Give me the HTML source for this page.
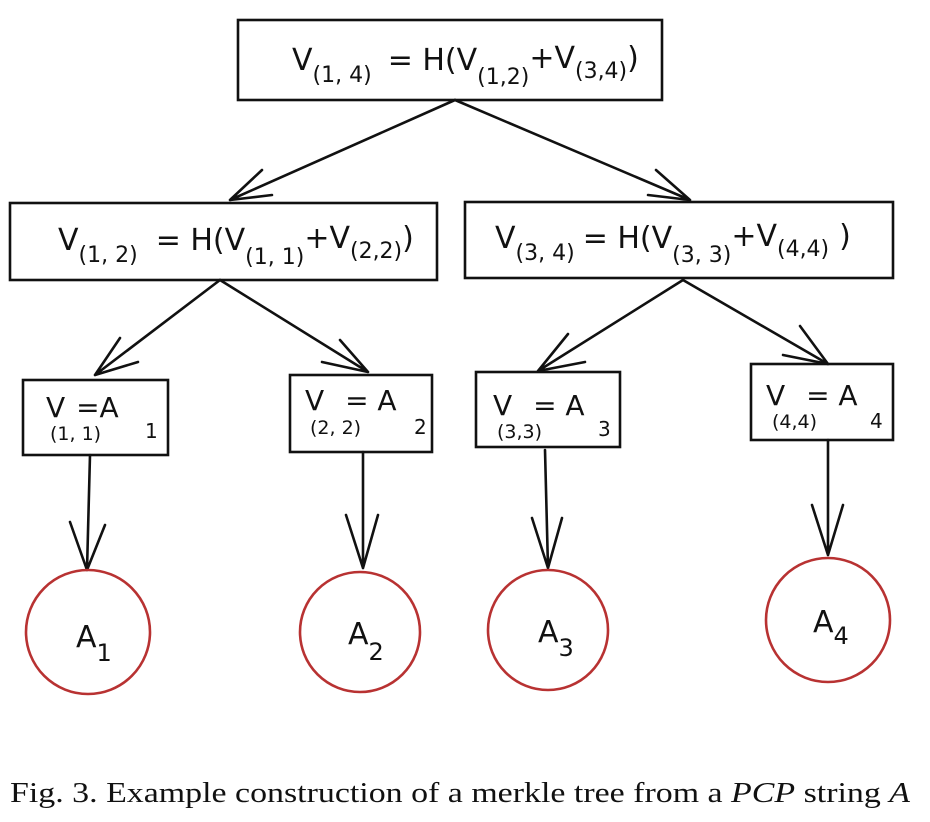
<!DOCTYPE html>
<html><head><meta charset="utf-8"><style>
body{margin:0;background:#fff;width:930px;height:822px;overflow:hidden}
svg{display:block}
.t{font-family:"DejaVu Sans","Liberation Sans",sans-serif;fill:#111}
</style></head><body>
<svg width="930" height="822" viewBox="0 0 930 822" xmlns="http://www.w3.org/2000/svg">
<g fill="none" stroke="#111" stroke-width="2.6" stroke-linecap="round">
<rect x="238" y="20" width="424" height="80"/>
<rect x="10" y="203" width="427" height="77"/>
<rect x="465" y="202" width="428" height="76"/>
<rect x="23" y="380" width="145" height="75"/>
<rect x="290" y="375" width="142" height="77"/>
<rect x="476" y="372" width="144" height="75"/>
<rect x="751" y="364" width="142" height="76"/>
<path d="M455 100 L230 200 M230 200 L262 170 M230 200 L272 195"/>
<path d="M455 100 L690 200 M690 200 L656 170 M690 200 L648 195"/>
<path d="M220 280 L95 375 M95 375 L120 338 M95 375 L138 362"/>
<path d="M220 280 L368 372 M368 372 L340 340 M368 372 L322 362"/>
<path d="M683 280 L538 371 M538 371 L568 334 M538 371 L585 362"/>
<path d="M683 280 L828 364 M828 364 L800 326 M828 364 L783 355"/>
<path d="M90 455 L87 570 M87 570 L70 522 M87 570 L105 525"/>
<path d="M363 452 L363 568 M363 568 L346 515 M363 568 L378 515"/>
<path d="M545 450 L548 568 M548 568 L532 518 M548 568 L562 518"/>
<path d="M828 440 L828 555 M828 555 L812 505 M828 555 L843 505"/>
</g>
<g fill="none" stroke="#b83232" stroke-width="2.6">
<circle cx="88" cy="632" r="62"/>
<circle cx="360" cy="632" r="60"/>
<circle cx="548" cy="630" r="60"/>
<circle cx="828" cy="620" r="62"/>
</g>
<g class="t">
<text x="292" y="70" font-size="30">V<tspan font-size="22" dy="12">(1, 4)</tspan><tspan dy="-12" dx="16">= H(V</tspan><tspan font-size="22" dy="14">(1,2)</tspan><tspan dy="-16">+V</tspan><tspan font-size="22" dy="10">(3,4)</tspan><tspan dy="-10">)</tspan></text>
<text x="58" y="250" font-size="30">V<tspan font-size="22" dy="12">(1, 2)</tspan><tspan dy="-12" dx="18">= H(V</tspan><tspan font-size="22" dy="14">(1, 1)</tspan><tspan dy="-16">+V</tspan><tspan font-size="22" dy="10">(2,2)</tspan><tspan dy="-10">)</tspan></text>
<text x="495" y="248" font-size="30">V<tspan font-size="22" dy="12">(3, 4)</tspan><tspan dy="-12" dx="8">= H(V</tspan><tspan font-size="22" dy="14">(3, 3)</tspan><tspan dy="-16">+V</tspan><tspan font-size="22" dy="10">(4,4)</tspan><tspan dy="-10" dx="10">)</tspan></text>
<text x="46" y="417" font-size="28">V <tspan dx="2">=A</tspan></text>
<text x="50" y="440" font-size="19">(1, 1)</text><text x="145" y="438" font-size="20">1</text>
<text x="305" y="410" font-size="28">V <tspan dx="12">= A</tspan></text>
<text x="310" y="434" font-size="19">(2, 2)</text><text x="414" y="434" font-size="20">2</text>
<text x="493" y="415" font-size="28">V <tspan dx="12">= A</tspan></text>
<text x="497" y="438" font-size="19">(3,3)</text><text x="598" y="436" font-size="20">3</text>
<text x="766" y="405" font-size="28">V <tspan dx="12">= A</tspan></text>
<text x="772" y="428" font-size="19">(4,4)</text><text x="870" y="428" font-size="20">4</text>
<text x="76" y="647" font-size="30">A<tspan font-size="24" dy="14">1</tspan></text>
<text x="348" y="644" font-size="30">A<tspan font-size="24" dy="16">2</tspan></text>
<text x="538" y="642" font-size="30">A<tspan font-size="24" dy="14">3</tspan></text>
<text x="813" y="632" font-size="30">A<tspan font-size="24" dy="12">4</tspan></text>
</g>
<text x="10" y="802" font-family="Liberation Serif,serif" font-size="29" fill="#111" textLength="900" lengthAdjust="spacingAndGlyphs">Fig. 3.  Example construction of a merkle tree from a <tspan font-style="italic">PCP</tspan> string <tspan font-style="italic">A</tspan></text>
</svg>
</body></html>
